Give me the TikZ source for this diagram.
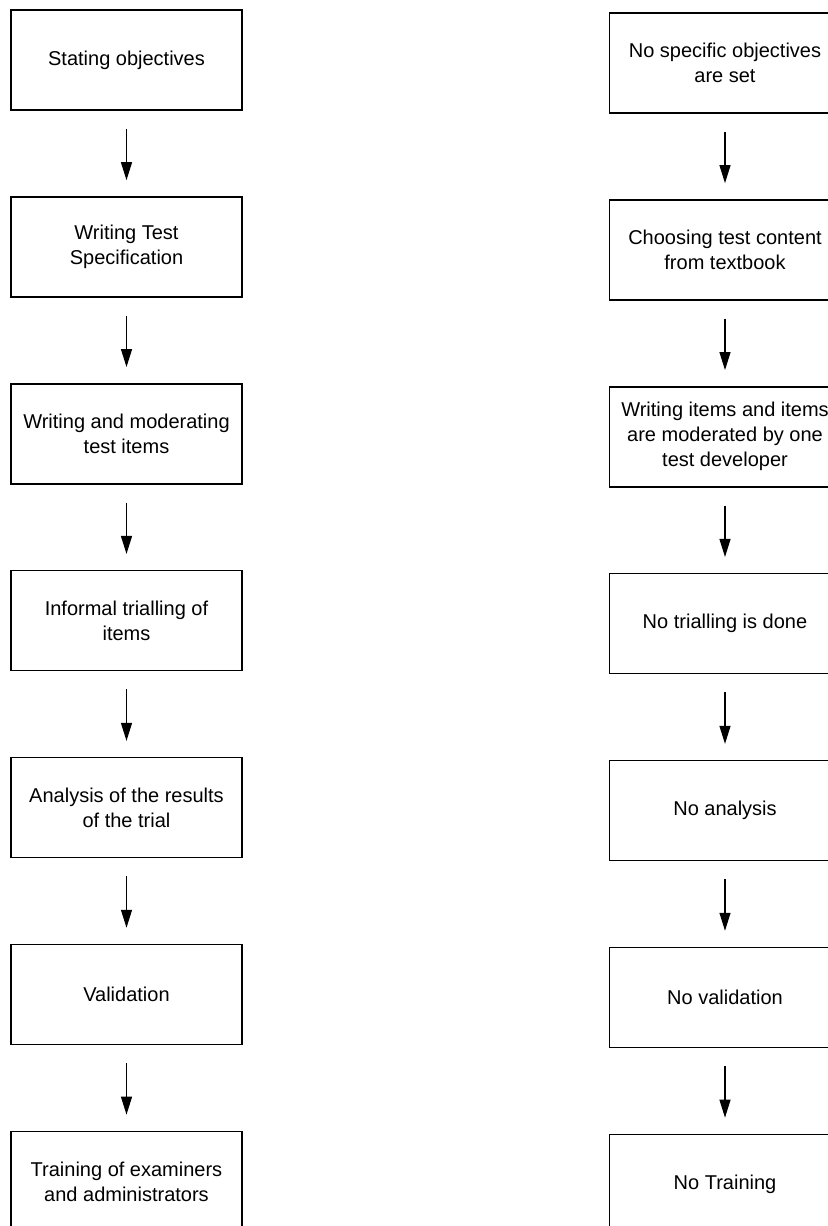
\documentclass[tikz,border=0pt]{standalone}
\usepackage{fontspec}
\setmainfont{Liberation Sans}
\usetikzlibrary{arrows.meta,positioning}

\begin{document}
\begin{tikzpicture}[node distance=42.7pt, line/.style={-{Triangle[width=5.5pt,length=9pt]},line width=0.6pt,shorten <=9pt,shorten >=8pt}, box/.style={rectangle,draw,line width=0.75pt,minimum width=115.5pt,minimum height=50pt,inner sep=2pt,align=center,font=\fontsize{10pt}{12.5pt}\selectfont}]
\useasboundingbox (0,0) rectangle (414pt,-613pt);
% planned test development
\node[box] (obj) at (63.25pt,-30pt) {Stating objectives};
\node[box,below=of obj] (spec) {Writing Test\\Specification};
\node[box,below=of spec] (items) {Writing and moderating\\test items};
\node[box,below=of items] (trial) {Informal trialling of\\items};
\node[box,below=of trial] (anal) {Analysis of the results\\of the trial};
\node[box,below=of anal] (valid) {Validation};
\node[box,below=of valid] (train) {Training of examiners\\and administrators};
% what actually happens
\node[box,right=183pt of obj,yshift=-1.5pt] (noobj) {No specific objectives\\are set};
\node[box,below=of noobj] (content) {Choosing test content\\from textbook};
\node[box,below=of content] (moder) {Writing items and items\\are moderated by one\\test developer};
\node[box,below=of moder] (notrial) {No trialling is done};
\node[box,below=of notrial] (noanal) {No analysis};
\node[box,below=of noanal] (novalid) {No validation};
\node[box,below=of novalid] (notrain) {No Training};
\draw[line] (obj) -- (spec);
\draw[line] (spec) -- (items);
\draw[line] (items) -- (trial);
\draw[line] (trial) -- (anal);
\draw[line] (anal) -- (valid);
\draw[line] (valid) -- (train);
\draw[line] (noobj) -- (content);
\draw[line] (content) -- (moder);
\draw[line] (moder) -- (notrial);
\draw[line] (notrial) -- (noanal);
\draw[line] (noanal) -- (novalid);
\draw[line] (novalid) -- (notrain);
\end{tikzpicture}
\end{document}
